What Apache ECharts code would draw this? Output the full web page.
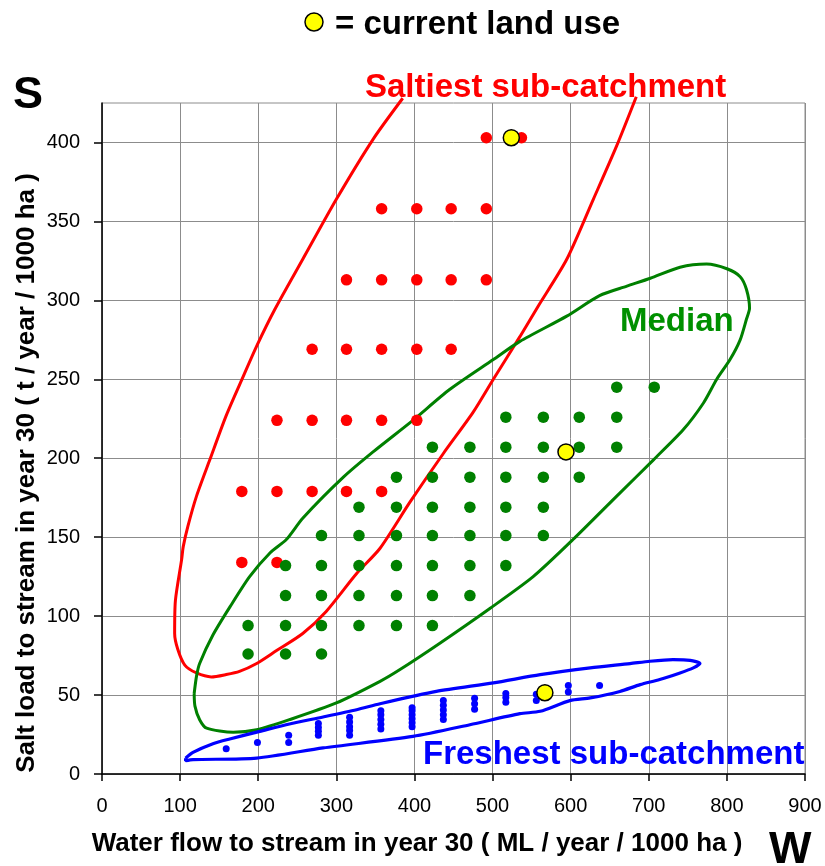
<!DOCTYPE html>
<html>
<head>
<meta charset="utf-8">
<script src="https://cdn.jsdelivr.net/npm/echarts@6/dist/echarts.min.js"></script>
<style>
  html, body { margin: 0; padding: 0; background: #ffffff; }
  #chart { width: 825px; height: 866px; }
</style>
</head>
<body>
<div id="chart"></div>
<script>
// Axis ticks
const flowTicks = [0, 100, 200, 300, 400, 500, 600, 700, 800, 900];
const loadTicks = [0, 50, 100, 150, 200, 250, 300, 350, 400];

// Land-use scenarios, [water flow, salt load] per scenario
const saltiestPoints = [
  [492, 403], [537, 403],
  [358, 358], [403, 358], [447, 358], [492, 358],
  [313, 313], [358, 313], [403, 313], [447, 313], [492, 313],
  [269, 269], [313, 269], [358, 269], [403, 269], [447, 269],
  [224, 224], [269, 224], [313, 224], [358, 224], [403, 224],
  [179, 179], [224, 179], [269, 179], [313, 179], [358, 179],
  [179, 134], [224, 134]
];

const medianPoints = [
  [659, 245], [707, 245],
  [517, 226], [565, 226], [611, 226], [659, 226],
  [423, 207], [471, 207], [517, 207], [565, 207], [611, 207], [659, 207],
  [377, 188], [423, 188], [471, 188], [517, 188], [565, 188], [611, 188],
  [329, 169], [377, 169], [423, 169], [471, 169], [517, 169], [565, 169],
  [281, 151], [329, 151], [377, 151], [423, 151], [471, 151], [517, 151], [565, 151],
  [235, 132], [281, 132], [329, 132], [377, 132], [423, 132], [471, 132], [517, 132],
  [235, 113], [281, 113], [329, 113], [377, 113], [423, 113], [471, 113],
  [187, 94], [235, 94], [281, 94], [329, 94], [377, 94], [423, 94],
  [187, 76], [235, 76], [281, 76]
];

const freshestPoints = [
  [159, 16], [199, 20], [239, 20], [239, 24.5],
  [277, 24.5], [277, 27], [277, 29.5], [277, 32],
  [317, 24.5], [317, 27.5], [317, 30], [317, 33], [317, 36],
  [357, 28.5], [357, 31.5], [357, 34.5], [357, 37.5], [357, 40],
  [397, 30], [397, 32.5], [397, 35], [397, 37.5], [397, 40], [397, 42],
  [437, 34.5], [437, 37.5], [437, 40.5], [437, 43.5], [437, 46.5],
  [477, 41], [477, 44.5], [477, 48],
  [517, 45.5], [517, 48.5], [517, 51],
  [556, 46.5], [556, 50.5],
  [597, 52], [597, 56],
  [637, 56]
];

const currentLandUse = [[524, 403], [594, 204], [567, 51.5]];

// Envelopes drawn round each sub-catchment's scenarios
const saltiestOutline = [
  [385, 428], [347, 402], [300, 364], [257, 326], [221, 294], [198, 271], [181, 252],
  [159, 227], [138, 199], [121, 176], [110, 157], [104, 144], [102, 136], [94, 110],
  [93, 89], [97, 79], [106, 69], [121, 64], [140, 61.5], [159, 63], [176, 65],
  [198, 70], [223, 78], [257, 89], [287, 103], [326, 127], [356, 143], [394, 172],
  [437, 203], [475, 229], [501, 250], [535, 277], [558, 296], [595, 326], [629, 364],
  [659, 398], [684, 429]
];

const medianOutline = [
  [118, 51], [121, 62], [125, 70], [142, 88], [164, 106], [189, 125], [215, 140],
  [236, 148.5], [257, 162], [309, 188], [347, 204], [398, 224], [445, 243.5],
  [501, 262.5], [535, 274], [595, 290], [637, 303], [672, 309], [702, 314],
  [740, 321], [774, 323], [800, 320], [817, 315], [825, 307], [829, 295],
  [825, 288], [817, 275], [804, 262.5], [787, 250], [770, 235], [744, 218],
  [706, 199], [659, 176], [603, 148.5], [552, 125], [497, 105], [433, 83],
  [381, 66], [356, 58.7], [300, 45], [240, 34.4], [198, 28], [168, 26.4],
  [134, 29], [125, 34.4], [119, 43], [118, 51]
];

const freshestOutline = [
  [107, 10], [116.5, 13.7], [142, 19.2], [163.5, 22.2], [202, 27], [240, 31.7],
  [283, 36.1], [326, 40.7], [356, 44.5], [428, 52.3], [501, 57.7], [561, 62.9],
  [625, 67.2], [676, 69.9], [701.5, 71.4], [731, 72.4], [753, 72], [765.5, 70],
  [757, 67.2], [740, 64], [714, 59.8], [689, 56.6], [663, 52.3], [625, 48.2],
  [599, 46.5], [561, 39.7], [535, 38.2], [471, 31.2], [398, 23.8], [283, 16.5],
  [198, 10.1], [116.5, 9.1], [107, 8.4], [107, 10]
];

const FONT = '"Liberation Sans", Arial, Helvetica, sans-serif';
const RED = '#ff0000', GREEN = '#008000', BLUE = '#0000ff';

const chart = echarts.init(document.getElementById('chart'), null, { renderer: 'canvas' });

function outline(name, data, color, width) {
  return {
    name: name, type: 'line', data: data, showSymbol: false, symbol: 'none',
    smooth: 0.25, clip: false, silent: true, z: 2,
    lineStyle: { color: color, width: width }
  };
}
function dots(name, data, color, size) {
  return {
    name: name, type: 'scatter', data: data, symbol: 'circle', symbolSize: size,
    itemStyle: { color: color, opacity: 1 }, z: 3, silent: true
  };
}

chart.setOption({
  animation: false,
  backgroundColor: '#ffffff',
  grid: {
    left: 102, right: 20, top: 103, bottom: 92,
    show: true, borderColor: '#8c8c8c', borderWidth: 1, backgroundColor: 'transparent'
  },
  xAxis: {
    type: 'value', min: 0, max: 900, interval: 100,
    axisLine: { show: true, onZero: false, lineStyle: { color: '#000', width: 1.5 } },
    axisTick: { show: true, inside: false, length: 7, lineStyle: { color: '#000', width: 1.5 },
                customValues: flowTicks },
    axisLabel: { color: '#000', fontSize: 20, fontFamily: FONT, margin: 22,
                 customValues: flowTicks },
    splitLine: { show: true, lineStyle: { color: '#8c8c8c', width: 1 } }
  },
  yAxis: {
    type: 'value', min: 0, max: 425, interval: 50,
    axisLine: { show: true, onZero: false, lineStyle: { color: '#000', width: 1.5 } },
    axisTick: { show: true, inside: false, length: 8, lineStyle: { color: '#000', width: 1.5 },
                customValues: loadTicks },
    axisLabel: { color: '#000', fontSize: 20, fontFamily: FONT, margin: 22,
                 customValues: loadTicks },
    splitLine: { show: true, lineStyle: { color: '#8c8c8c', width: 1 } }
  },
  series: [
    outline('Saltiest envelope', saltiestOutline, RED, 3),
    outline('Median envelope', medianOutline, GREEN, 3),
    outline('Freshest envelope', freshestOutline, BLUE, 3.2),
    dots('Saltiest sub-catchment', saltiestPoints, RED, 11.5),
    dots('Median', medianPoints, GREEN, 11.5),
    dots('Freshest sub-catchment', freshestPoints, BLUE, 7),
    {
      name: 'current land use', type: 'scatter', data: currentLandUse,
      symbol: 'circle', symbolSize: 16, z: 5, silent: true,
      itemStyle: { color: '#ffff00', borderColor: '#000', borderWidth: 1.5, opacity: 1 }
    }
  ],
  graphic: [
    { type: 'circle', shape: { cx: 314, cy: 22, r: 9 }, z: 10,
      style: { fill: '#ffff00', stroke: '#000', lineWidth: 1.5 } },
    { type: 'text', x: 335, y: 25, z: 10,
      style: { text: '= current land use', fill: '#000', font: 'bold 33px ' + FONT,
               align: 'left', verticalAlign: 'middle' } },
    { type: 'text', x: 365, y: 88, z: 10,
      style: { text: 'Saltiest sub-catchment', fill: RED, font: 'bold 33px ' + FONT,
               align: 'left', verticalAlign: 'middle' } },
    { type: 'text', x: 620, y: 322, z: 10,
      style: { text: 'Median', fill: '#009000', font: 'bold 33px ' + FONT,
               align: 'left', verticalAlign: 'middle' } },
    { type: 'text', x: 423, y: 755, z: 10,
      style: { text: 'Freshest sub-catchment', fill: BLUE, font: 'bold 33px ' + FONT,
               align: 'left', verticalAlign: 'middle' } },
    { type: 'text', x: 13, y: 96, z: 10,
      style: { text: 'S', fill: '#000', font: 'bold 45px ' + FONT,
               align: 'left', verticalAlign: 'middle' } },
    { type: 'text', x: 769, y: 851, z: 10,
      style: { text: 'W', fill: '#000', font: 'bold 45px ' + FONT,
               align: 'left', verticalAlign: 'middle' } },
    { type: 'text', x: 417, y: 844, z: 10,
      style: { text: 'Water flow to stream in year 30 ( ML / year / 1000 ha )', fill: '#000',
               font: 'bold 26px ' + FONT, align: 'center', verticalAlign: 'middle' } },
    { type: 'text', x: 27, y: 473, rotation: Math.PI / 2, z: 10,
      style: { text: 'Salt load to stream in year 30 ( t / year / 1000 ha )', fill: '#000',
               font: 'bold 26px ' + FONT, align: 'center', verticalAlign: 'middle' } }
  ]
});
</script>
</body>
</html>
